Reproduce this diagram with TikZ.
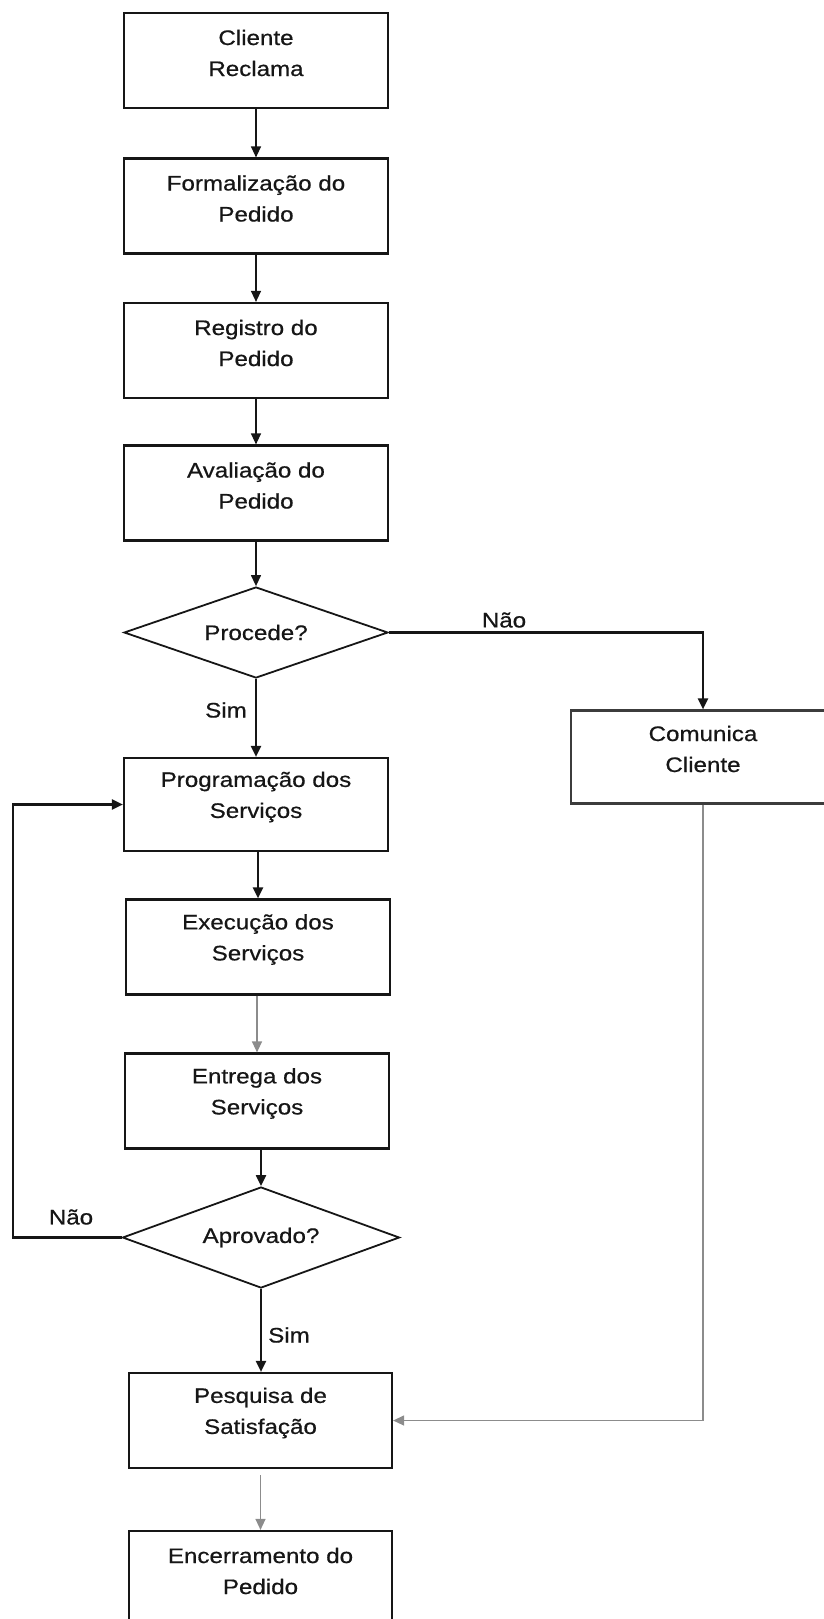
\documentclass[tikz,border=0pt]{standalone}
\usepackage{fontspec}
\setmainfont{Liberation Sans}[FakeStretch=1.15, FakeBold=0.6]
\usetikzlibrary{arrows.meta,positioning,shapes.geometric}
\definecolor{flowink} {HTML}{161616}
\definecolor{flowedge}{HTML}{3C3C3C}
\definecolor{flowgray}{HTML}{8C8C8C}

\begin{document}
\begin{tikzpicture}[
  x=1pt, y=-1pt,
  box/.style={rectangle, draw=flowink, line width=2.2pt, inner sep=0pt,
              minimum width=264pt, minimum height=95pt},
  boxtext/.style={align=center, font=\fontsize{21}{31}\selectfont,
                  text=flowink, yshift=7.5pt},
  decision/.style={diamond, aspect=2.9, draw=flowink, line width=1.8pt,
                   inner sep=0pt, font=\fontsize{21}{31}\selectfont, text=flowink},
  answer/.style={font=\fontsize{21}{31}\selectfont, text=flowink},
  flow/.style={draw=flowink, line width=1.3pt,
               -{Triangle[length=11pt,width=10pt]}},
  strong/.style={flow, line width=2.1pt},
  faint/.style={flow, draw=flowgray},
]
  \useasboundingbox (0,0) rectangle (823,1619);

  % Main column of steps
  \node[box, label={[boxtext]center:Cliente\\Reclama}] (reclama) at (256,60.5) {};
  \node[box, label={[boxtext]center:Formalização do\\Pedido}] (formalizacao) at (256,206) {};
  \node[box, label={[boxtext]center:Registro do\\Pedido}] (registro) at (256,350.5) {};
  \node[box, label={[boxtext]center:Avaliação do\\Pedido}] (avaliacao) at (256,493) {};
  \node[decision, minimum width=264pt, minimum height=91pt] (procede) at (256,632.5) {Procede?};
  \node[box, minimum height=93pt,
        label={[boxtext]center:Programação dos\\Serviços}] (programacao) at (256,804.5) {};
  \node[box, label={[boxtext]center:Execução dos\\Serviços}] (execucao) at (258,947) {};
  \node[box, label={[boxtext]center:Entrega dos\\Serviços}] (entrega) at (257,1101) {};
  \node[decision, minimum width=277pt, minimum height=101pt] (aprovado) at (261,1237.5) {Aprovado?};
  \node[box, minimum width=263pt,
        label={[boxtext]center:Pesquisa de\\Satisfação}] (pesquisa) at (260.5,1420.5) {};
  \node[box, minimum width=263pt,
        label={[boxtext]center:Encerramento do\\Pedido}] (encerramento) at (260.5,1578.5) {};

  % Side branch
  \node[box, draw=flowedge, minimum width=264pt, minimum height=93pt,
        label={[boxtext, yshift=0.5pt]center:Comunica\\Cliente}] (comunica) at (703,757) {};

  \node[answer] (naoprocede) at (504,620) {Não};
  \node[answer] (simprocede) at (226,710) {Sim};
  \node[answer] (naoaprovado) at (71,1217) {Não};
  \node[answer] (simaprovado) at (289,1335) {Sim};

  \coordinate (retorno) at (13,1237.5);

  % Connectors
  \draw[flow] (reclama) -- (formalizacao);
  \draw[flow] (formalizacao) -- (registro);
  \draw[flow] (registro) -- (avaliacao);
  \draw[flow] (avaliacao) -- (procede);
  \draw[strong] (procede.east) -| (comunica.north);
  \draw[strong] (procede.south) -- (programacao.north);
  \draw[strong] (programacao.south -| execucao.north) -- (execucao.north);
  \draw[faint] (execucao.south -| entrega.north) -- (entrega.north);
  \draw[strong] (aprovado.north |- entrega.south) -- (aprovado.north);
  \draw[strong] (aprovado.west) -- (retorno) |- (programacao.west);
  \draw[strong] (aprovado.south) -- (aprovado.south |- pesquisa.north);
  \draw[faint] (comunica.south) |- (pesquisa.east);
  \draw[faint, shorten <=6pt] (pesquisa) -- (encerramento);
\end{tikzpicture}
\end{document}
